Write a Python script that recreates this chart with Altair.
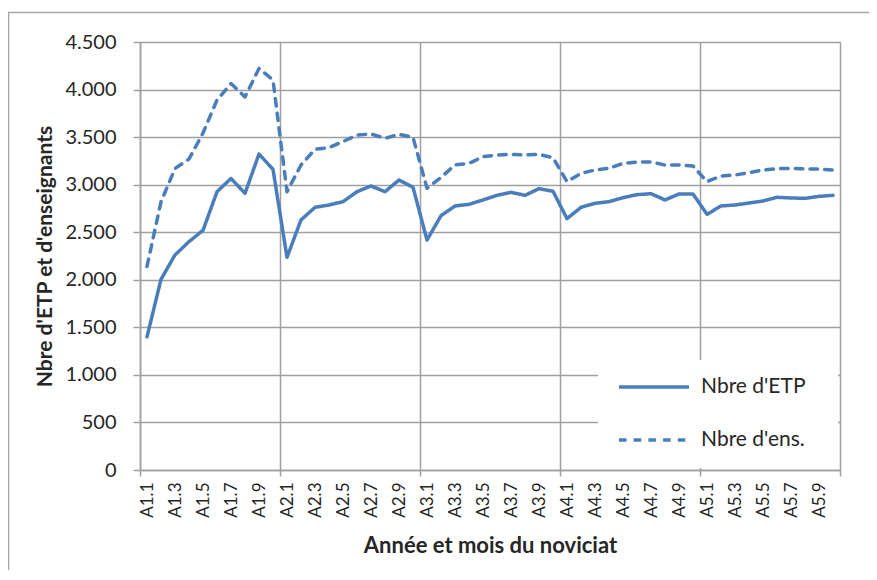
import json
import altair as alt
import pandas as pd

# ---- data -------------------------------------------------------------
categories = [f"A{y}.{m}" for y in range(1, 6) for m in range(1, 11)]

etp = [1400, 2005, 2261, 2401, 2520, 2926, 3065, 2909, 3322, 3161,
       2236, 2629, 2762, 2786, 2821, 2926, 2986, 2926, 3049, 2972,
       2418, 2674, 2776, 2793, 2839, 2888, 2919, 2888, 2958, 2930,
       2643, 2762, 2804, 2821, 2863, 2895, 2905, 2839, 2902, 2902,
       2688, 2776, 2786, 2807, 2828, 2867, 2860, 2856, 2877, 2888]

ens = [2140, 2820, 3170, 3270, 3543, 3890, 4063, 3923, 4222, 4100,
       2926, 3207, 3372, 3389, 3453, 3522, 3533, 3487, 3529, 3498,
       2962, 3077, 3207, 3224, 3294, 3312, 3319, 3312, 3319, 3284,
       3032, 3119, 3154, 3172, 3224, 3238, 3238, 3207, 3207, 3196,
       3032, 3091, 3102, 3126, 3154, 3168, 3172, 3165, 3165, 3154]

series_names = ["Nbre d'ETP", "Nbre d'ens."]
y_ticks = [0, 500, 1000, 1500, 2000, 2500, 3000, 3500, 4000, 4500]

# ---- table ------------------------------------------------------------
rows = []
for i, c in enumerate(categories):
    rows.append({"idx": i, "cat": c, "value": etp[i], "series": series_names[0]})
    rows.append({"idx": i, "cat": c, "value": ens[i], "series": series_names[1]})
df = pd.DataFrame(rows)

label_idx = list(range(0, len(categories), 2))
boundaries = [b - 0.5 for b in range(0, len(categories) + 1, 10)]
x_values = label_idx + boundaries

BLUE = "#4A7EBB"
GRID = "#a0a0a0"
TEXT = "#262626"
FONT = "Lato"

label_expr = f"datum.value % 1 == 0 ? {json.dumps(categories)}[datum.value] : ''"

x_axis = alt.Axis(
    values=x_values,
    labelExpr=label_expr,
    labelAngle=-90,
    labelOverlap=False,
    labelFlush=False,
    labelFontSize=17,
    labelFont=FONT,
    labelColor=TEXT,
    labelPadding=6,
    tickSize=6,
    tickColor=GRID,
    tickWidth=1.5,
    tickOpacity={"condition": {"test": "datum.value % 1 != 0", "value": 1}, "value": 0},
    grid=True,
    gridColor=GRID,
    gridWidth=1.5,
    gridOpacity={"condition": {"test": "datum.value % 1 != 0", "value": 1}, "value": 0},
    domainColor=GRID,
    domainWidth=1.5,
    title="Année et mois du noviciat",
    titleFont=FONT,
    titleFontSize=22,
    titleFontWeight="bold",
    titleColor=TEXT,
    titlePadding=18,
)

y_axis = alt.Axis(
    values=y_ticks,
    labelExpr="replace(format(datum.value, ','), ',', '.')",
    labelFontSize=20,
    labelFont=FONT,
    labelColor=TEXT,
    labelPadding=17,
    tickSize=7,
    tickColor=GRID,
    tickWidth=1.5,
    grid=True,
    gridColor=GRID,
    gridWidth=1.5,
    domainColor=GRID,
    domainWidth=1.5,
    title="Nbre d'ETP et d'enseignants",
    titleFont=FONT,
    titleFontSize=21,
    titleFontWeight="bold",
    titleColor=TEXT,
    titlePadding=9,
)

one = pd.DataFrame({"a": [0]})

border = alt.Chart(one).mark_rect(
    fill="transparent", stroke="#a6a6a6", strokeWidth=1.5
).encode(
    x=alt.value(-131.5), x2=alt.value(760), y=alt.value(-29.5), y2=alt.value(620)
)

legend_bg = alt.Chart(one).mark_rect(fill="white").encode(
    x=alt.value(458), x2=alt.value(698), y=alt.value(318), y2=alt.value(426)
)

lines = alt.Chart(df).mark_line(
    color=BLUE, strokeWidth=3.5, strokeCap="round", strokeJoin="round"
).encode(
    x=alt.X("idx:Q", scale=alt.Scale(domain=[-0.5, len(categories) - 0.5], nice=False, zero=False), axis=x_axis),
    y=alt.Y("value:Q", scale=alt.Scale(domain=[0, 4500], nice=False), axis=y_axis),
    strokeDash=alt.StrokeDash(
        "series:N",
        scale=alt.Scale(domain=series_names, range=[[1, 0], [7.5, 7.2]]),
        legend=alt.Legend(
            title=None,
            orient="none",
            legendX=477,
            legendY=308,
            symbolType="stroke",
            symbolSize=4900,
            symbolStrokeWidth=3.5,
            symbolStrokeColor=BLUE,
            labelFont=FONT,
            labelFontSize=21,
            labelColor=TEXT,
            labelOffset=10,
            rowPadding=6,
            padding=0,
            zindex=1,
        ),
    ),
    detail="series:N",
)

chart = alt.layer(border, legend_bg, lines).properties(
    width=700,
    height=428,
    padding={"left": 132, "top": 34, "right": 29, "bottom": 100},
    autosize=alt.AutoSizeParams(type="none"),
).configure_view(stroke=None).configure(background="white")

chart.save("out.html", embed_options={"renderer": "svg", "actions": False})
